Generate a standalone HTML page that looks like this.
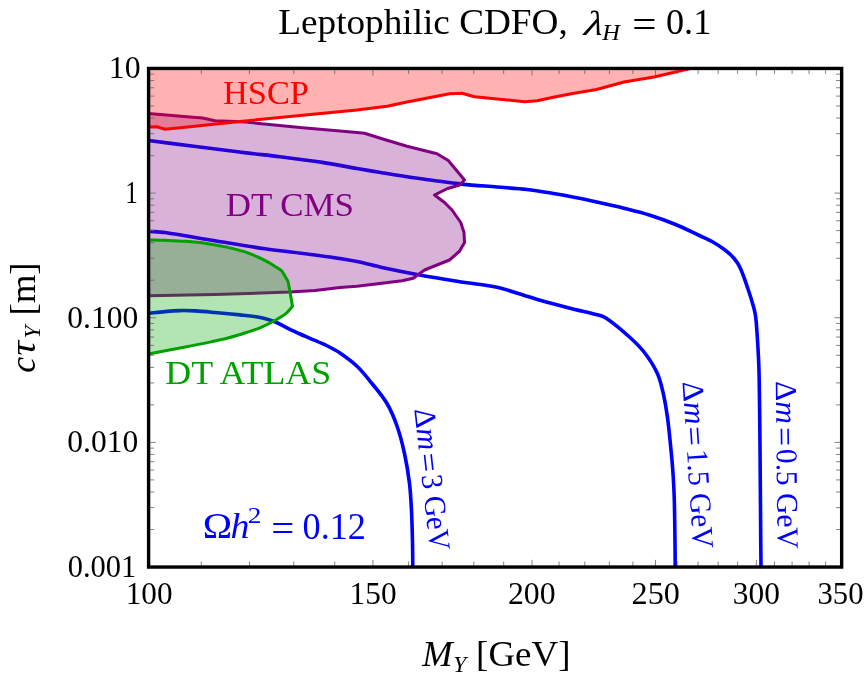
<!DOCTYPE html>
<html><head><meta charset="utf-8"><title>Leptophilic CDFO</title>
<style>html,body{margin:0;padding:0;background:#fff;}svg{display:block;}text{font-family:"Liberation Serif",serif;}</style></head><body>
<svg width="868" height="685" viewBox="0 0 868 685" style="will-change:transform">
<rect width="868" height="685" fill="#fff"/>
<defs><clipPath id="cp"><rect x="148.60" y="68.45" width="693.05" height="498.60"/></clipPath></defs>
<g clip-path="url(#cp)" stroke-linejoin="round" stroke-linecap="butt" fill="none">
<path d="M148.50,140.50 C164.23,142.50 179.97,144.51 195.70,146.50 C212.60,148.64 229.49,150.85 246.40,152.90 C257.59,154.25 268.82,155.30 280.00,156.70 C294.15,158.47 308.30,160.24 322.40,162.40 C333.98,164.17 345.46,166.51 357.00,168.50 C365.33,169.94 373.66,171.33 382.00,172.70 C390.33,174.07 398.65,175.45 407.00,176.70 C415.32,177.95 423.66,179.08 432.00,180.20 C441.99,181.54 451.97,183.05 462.00,184.10 C473.64,185.32 485.33,186.03 497.00,187.00 C507.00,187.83 517.03,188.37 527.00,189.50 C535.37,190.45 543.69,191.88 552.00,193.25 C559.35,194.46 566.69,195.81 574.00,197.25 C582.35,198.89 590.68,200.67 599.00,202.50 C607.35,204.34 615.70,206.18 624.00,208.25 C632.71,210.43 641.44,212.56 650.00,215.25 C658.45,217.90 666.81,220.89 675.00,224.25 C683.49,227.73 691.69,231.87 700.00,235.75 C704.19,237.70 708.48,239.46 712.50,241.75 C716.84,244.22 721.03,246.97 725.00,250.00 C728.14,252.40 731.18,255.00 733.75,258.00 C736.22,260.88 738.40,264.06 740.00,267.50 C743.01,273.95 745.19,280.77 747.50,287.50 C749.77,294.11 751.90,300.77 753.75,307.50 C754.65,310.78 755.36,314.12 755.75,317.50 C756.61,324.97 757.04,332.49 757.50,340.00 C758.13,350.33 758.76,360.66 759.00,371.00 C759.59,396.00 759.74,421.00 760.00,446.00 C760.33,478.00 760.48,510.00 760.75,542.00 C760.82,550.25 760.92,558.50 761.00,566.75" stroke="#0000ff" stroke-width="3.6"/>
<path d="M148.50,231.25 C154.00,231.67 159.54,231.72 165.00,232.50 C181.72,234.89 198.33,238.04 215.00,240.75 C231.66,243.46 248.29,246.37 265.00,248.75 C281.63,251.12 298.36,252.69 315.00,255.00 C329.03,256.94 343.07,258.90 357.00,261.50 C365.42,263.07 373.62,265.69 382.00,267.50 C393.63,270.02 405.30,272.35 417.00,274.50 C430.30,276.94 443.64,279.15 457.00,281.25 C466.98,282.82 477.03,283.89 487.00,285.50 C492.03,286.31 497.09,287.14 502.00,288.50 C513.94,291.81 525.59,296.08 537.50,299.50 C549.93,303.08 562.47,306.29 575.00,309.50 C581.64,311.20 588.40,312.40 595.00,314.25 C598.83,315.32 602.93,316.05 606.25,318.25 C614.74,323.89 622.44,330.67 630.00,337.50 C635.38,342.36 640.62,347.47 645.00,353.25 C649.84,359.63 654.21,366.46 657.50,373.75 C660.39,380.16 661.83,387.15 663.40,394.00 C665.17,401.75 666.44,409.62 667.50,417.50 C669.00,428.63 669.99,439.82 671.10,451.00 C671.79,457.99 672.43,464.99 672.90,472.00 C673.48,480.66 673.99,489.33 674.25,498.00 C674.69,512.66 674.80,527.33 675.00,542.00 C675.11,550.27 675.13,558.53 675.20,566.80" stroke="#0000ff" stroke-width="3.6"/>
<path d="M148.50,313.40 C154.00,312.80 159.49,312.09 165.00,311.60 C169.99,311.16 174.99,310.72 180.00,310.60 C185.00,310.48 190.01,310.63 195.00,310.90 C201.68,311.26 208.34,311.91 215.00,312.50 C223.34,313.24 231.67,314.02 240.00,314.90 C245.88,315.52 251.77,316.04 257.60,317.00 C261.45,317.64 265.24,318.65 269.00,319.70 C271.21,320.32 273.40,321.06 275.50,322.00 C279.42,323.76 283.14,325.91 287.00,327.80 C291.31,329.91 295.63,332.01 300.00,334.00 C303.30,335.51 306.67,336.85 310.00,338.30 C315.84,340.85 321.78,343.20 327.50,346.00 C331.79,348.10 336.06,350.30 340.00,353.00 C345.92,357.07 351.80,361.29 357.00,366.25 C362.52,371.51 367.22,377.57 372.00,383.50 C377.23,389.99 382.77,396.32 387.00,403.50 C391.16,410.57 394.29,418.25 397.00,426.00 C400.14,434.97 402.48,444.22 404.50,453.50 C406.65,463.41 408.27,473.44 409.50,483.50 C410.61,492.62 411.03,501.82 411.50,511.00 C412.03,521.33 412.26,531.66 412.50,542.00 C412.69,550.33 412.70,558.67 412.80,567.00" stroke="#0000ff" stroke-width="3.6"/>
<path d="M148.50,113.60 L190.00,117.00 L202.50,118.00 L215.00,120.75 L242.50,121.75 L300.00,127.50 L357.00,132.50 L364.50,133.25 L382.00,138.75 L407.00,146.25 L437.00,153.75 L448.25,160.50 L464.50,180.00 L459.50,185.00 L447.00,188.75 L434.50,195.00 L444.50,202.50 L452.00,210.00 L460.75,222.50 L464.00,232.50 L464.50,242.50 L459.50,251.25 L449.50,260.00 L424.50,270.00 L413.25,278.25 L402.00,280.75 L382.00,283.25 L357.00,286.25 L340.00,287.50 L315.00,290.50 L290.00,292.00 L215.00,294.50 L148.50,295.75Z" fill="#800080" fill-opacity="0.3" stroke="none"/>
<path d="M148.50,113.60 L190.00,117.00 L202.50,118.00 L215.00,120.75 L242.50,121.75 L300.00,127.50 L357.00,132.50 L364.50,133.25 L382.00,138.75 L407.00,146.25 L437.00,153.75 L448.25,160.50 L464.50,180.00 L459.50,185.00 L447.00,188.75 L434.50,195.00 L444.50,202.50 L452.00,210.00 L460.75,222.50 L464.00,232.50 L464.50,242.50 L459.50,251.25 L449.50,260.00 L424.50,270.00 L413.25,278.25 L402.00,280.75 L382.00,283.25 L357.00,286.25 L340.00,287.50 L315.00,290.50 L290.00,292.00 L215.00,294.50 L148.50,295.75" stroke="#800080" stroke-width="3.0"/>
<path d="M148.60,68.45 L692.00,68.45 L692.00,68.00 L676.50,71.75 L654.00,77.00 L624.00,82.00 L596.50,89.50 L574.00,93.25 L554.50,97.00 L537.00,100.75 L524.50,101.75 L502.00,99.50 L474.50,96.75 L462.00,93.25 L449.50,93.75 L407.00,102.00 L387.00,106.25 L357.00,110.00 L300.00,115.50 L242.50,121.25 L190.00,126.80 L165.00,129.25 L157.00,126.80 L148.50,127.00Z" fill="#ff0000" fill-opacity="0.3" stroke="none"/>
<path d="M148.50,127.00 L157.00,126.80 L165.00,129.25 L190.00,126.80 L242.50,121.25 L300.00,115.50 L357.00,110.00 L387.00,106.25 L407.00,102.00 L449.50,93.75 L462.00,93.25 L474.50,96.75 L502.00,99.50 L524.50,101.75 L537.00,100.75 L554.50,97.00 L574.00,93.25 L596.50,89.50 L624.00,82.00 L654.00,77.00 L676.50,71.75 L692.00,68.00" stroke="#ff0000" stroke-width="3.0"/>
<path d="M148.50,239.90 C154.13,240.03 159.77,240.09 165.40,240.30 C172.24,240.56 179.08,240.78 185.90,241.30 C192.72,241.82 199.53,242.44 206.30,243.40 C213.14,244.37 219.96,245.58 226.70,247.10 C233.60,248.65 240.54,250.21 247.20,252.60 C254.22,255.12 261.01,258.31 267.60,261.80 C272.61,264.46 277.13,267.93 281.90,271.00 L288.00,281.20 L290.10,292.40 L292.50,306.30 C290.20,308.87 288.32,311.58 285.80,313.60 C282.44,316.29 278.66,318.42 274.90,320.50 C270.02,323.19 265.04,325.75 259.90,327.90 C255.22,329.86 250.33,331.26 245.50,332.80 C239.96,334.56 234.42,336.32 228.80,337.80 C223.25,339.26 217.61,340.40 212.00,341.60 C205.01,343.10 198.01,344.51 191.00,345.90 C183.34,347.41 175.67,348.84 168.00,350.30 C161.50,351.54 155.00,352.77 148.50,354.00Z" fill="#00aa00" fill-opacity="0.3" stroke="none"/>
<path d="M148.50,239.90 C154.13,240.03 159.77,240.09 165.40,240.30 C172.24,240.56 179.08,240.78 185.90,241.30 C192.72,241.82 199.53,242.44 206.30,243.40 C213.14,244.37 219.96,245.58 226.70,247.10 C233.60,248.65 240.54,250.21 247.20,252.60 C254.22,255.12 261.01,258.31 267.60,261.80 C272.61,264.46 277.13,267.93 281.90,271.00 L288.00,281.20 L290.10,292.40 L292.50,306.30 C290.20,308.87 288.32,311.58 285.80,313.60 C282.44,316.29 278.66,318.42 274.90,320.50 C270.02,323.19 265.04,325.75 259.90,327.90 C255.22,329.86 250.33,331.26 245.50,332.80 C239.96,334.56 234.42,336.32 228.80,337.80 C223.25,339.26 217.61,340.40 212.00,341.60 C205.01,343.10 198.01,344.51 191.00,345.90 C183.34,347.41 175.67,348.84 168.00,350.30 C161.50,351.54 155.00,352.77 148.50,354.00" stroke="#00a000" stroke-width="3.0"/>
</g>
<path d="M148.60,567.05V559.85M148.60,68.45V75.65M201.33,567.05V561.45M201.33,68.45V74.05M249.46,567.05V561.45M249.46,68.45V74.05M293.74,567.05V561.45M293.74,68.45V74.05M334.74,567.05V561.45M334.74,68.45V74.05M372.91,567.05V559.85M372.91,68.45V75.65M408.61,567.05V561.45M408.61,68.45V74.05M442.15,567.05V561.45M442.15,68.45V74.05M473.77,567.05V561.45M473.77,68.45V74.05M503.68,567.05V561.45M503.68,68.45V74.05M532.06,567.05V559.85M532.06,68.45V75.65M559.05,567.05V561.45M559.05,68.45V74.05M584.79,567.05V561.45M584.79,68.45V74.05M609.38,567.05V561.45M609.38,68.45V74.05M632.92,567.05V561.45M632.92,68.45V74.05M655.51,567.05V559.85M655.51,68.45V75.65M677.21,567.05V561.45M677.21,68.45V74.05M698.08,567.05V561.45M698.08,68.45V74.05M718.20,567.05V561.45M718.20,68.45V74.05M737.62,567.05V561.45M737.62,68.45V74.05M756.37,567.05V559.85M756.37,68.45V75.65M774.51,567.05V561.45M774.51,68.45V74.05M792.08,567.05V561.45M792.08,68.45V74.05M809.10,567.05V561.45M809.10,68.45V74.05M825.61,567.05V561.45M825.61,68.45V74.05M841.65,567.05V559.85M841.65,68.45V75.65M148.60,567.05H155.80M841.65,567.05H834.45M148.60,529.53H154.20M841.65,529.53H836.05M148.60,507.58H154.20M841.65,507.58H836.05M148.60,492.00H154.20M841.65,492.00H836.05M148.60,479.92H154.20M841.65,479.92H836.05M148.60,470.05H154.20M841.65,470.05H836.05M148.60,461.71H154.20M841.65,461.71H836.05M148.60,454.48H154.20M841.65,454.48H836.05M148.60,448.10H154.20M841.65,448.10H836.05M148.60,442.40H155.80M841.65,442.40H834.45M148.60,404.88H154.20M841.65,404.88H836.05M148.60,382.93H154.20M841.65,382.93H836.05M148.60,367.35H154.20M841.65,367.35H836.05M148.60,355.27H154.20M841.65,355.27H836.05M148.60,345.40H154.20M841.65,345.40H836.05M148.60,337.06H154.20M841.65,337.06H836.05M148.60,329.83H154.20M841.65,329.83H836.05M148.60,323.45H154.20M841.65,323.45H836.05M148.60,317.75H155.80M841.65,317.75H834.45M148.60,280.23H154.20M841.65,280.23H836.05M148.60,258.28H154.20M841.65,258.28H836.05M148.60,242.70H154.20M841.65,242.70H836.05M148.60,230.62H154.20M841.65,230.62H836.05M148.60,220.75H154.20M841.65,220.75H836.05M148.60,212.41H154.20M841.65,212.41H836.05M148.60,205.18H154.20M841.65,205.18H836.05M148.60,198.80H154.20M841.65,198.80H836.05M148.60,193.10H155.80M841.65,193.10H834.45M148.60,155.58H154.20M841.65,155.58H836.05M148.60,133.63H154.20M841.65,133.63H836.05M148.60,118.05H154.20M841.65,118.05H836.05M148.60,105.97H154.20M841.65,105.97H836.05M148.60,96.10H154.20M841.65,96.10H836.05M148.60,87.76H154.20M841.65,87.76H836.05M148.60,80.53H154.20M841.65,80.53H836.05M148.60,74.15H154.20M841.65,74.15H836.05M148.60,68.45H155.80M841.65,68.45H834.45" stroke="#666" stroke-width="0.8" fill="none"/>
<rect x="148.60" y="68.45" width="693.05" height="498.60" fill="none" stroke="#000" stroke-width="3.4"/>
<text transform="translate(125.73,604.00) scale(1.0071,1.0390)" font-size="31" fill="#000" xml:space="preserve">100</text>
<text transform="translate(349.62,604.00) scale(1.0094,1.0390)" font-size="31" fill="#000" xml:space="preserve">150</text>
<text transform="translate(507.92,604.00) scale(1.0250,1.0390)" font-size="31" fill="#000" xml:space="preserve">200</text>
<text transform="translate(631.60,604.00) scale(1.0386,1.0390)" font-size="31" fill="#000" xml:space="preserve">250</text>
<text transform="translate(732.78,604.00) scale(1.0126,1.0390)" font-size="31" fill="#000" xml:space="preserve">300</text>
<text transform="translate(817.52,604.00) scale(0.9897,1.0390)" font-size="31" fill="#000" xml:space="preserve">350</text>
<text transform="translate(108.78,78.45) scale(1.0259,1.0488)" font-size="31" fill="#000" xml:space="preserve">10</text>
<text transform="translate(125.18,203.10) scale(0.8091,1.0488)" font-size="31" fill="#000" xml:space="preserve">1</text>
<text transform="translate(67.33,327.75) scale(1.0171,1.0488)" font-size="31" fill="#000" xml:space="preserve">0.100</text>
<text transform="translate(67.33,452.40) scale(1.0171,1.0488)" font-size="31" fill="#000" xml:space="preserve">0.010</text>
<text transform="translate(67.67,577.05) scale(0.9843,1.0488)" font-size="31" fill="#000" xml:space="preserve">0.001</text>
<text transform="translate(278.27,34.40) scale(1.0341,1.0000)" font-size="36" fill="#000" xml:space="preserve">Leptophilic CDFO,</text>
<text transform="translate(583.60,34.70) scale(1.2000,0.9703) skewX(-7)" font-size="36" fill="#000" font-style="italic" xml:space="preserve">λ</text>
<text transform="translate(602.36,39.80) scale(1.0216,1.0000)" font-size="24" fill="#000" font-style="italic" xml:space="preserve">H</text>
<text transform="translate(632.31,38.40) scale(1.1940,1.1333)" font-size="36" fill="#000" xml:space="preserve">=</text>
<text transform="translate(665.99,34.40) scale(1.0061,1.0000)" font-size="36" fill="#000" xml:space="preserve">0.1</text>
<text transform="translate(422.26,666.20) scale(1.0109,1.0000)" font-size="36" fill="#000" font-style="italic" xml:space="preserve">M</text>
<text transform="translate(453.23,671.70) scale(0.9786,1.0000)" font-size="24" fill="#000" font-style="italic" xml:space="preserve">Y</text>
<text transform="translate(476.08,666.20) scale(1.0266,1.0000)" font-size="36" fill="#000" xml:space="preserve">[GeV]</text>
<text transform="translate(34.80,371.70) rotate(-90.00) translate(-1.00,0.00) scale(1.0000,1.0000)" font-size="36" fill="#000" font-style="italic" xml:space="preserve">c</text>
<text transform="translate(34.80,371.70) rotate(-90.00) translate(15.83,0.00) scale(1.1547,1.0000)" font-size="36" fill="#000" font-style="italic" xml:space="preserve">τ</text>
<text transform="translate(34.80,371.70) rotate(-90.00) translate(33.14,5.20) scale(0.9714,1.0000)" font-size="24" fill="#000" font-style="italic" xml:space="preserve">Y</text>
<text transform="translate(34.80,371.70) rotate(-90.00) translate(56.08,0.00) scale(1.0237,1.0000)" font-size="36" fill="#000" xml:space="preserve">[m]</text>
<text transform="translate(222.99,103.80) scale(1.0103,1.0111)" font-size="34" fill="#ff0000" xml:space="preserve">HSCP</text>
<text transform="translate(225.77,215.60) scale(1.0262,1.0089)" font-size="34" fill="#800080" xml:space="preserve">DT CMS</text>
<text transform="translate(165.34,383.90) scale(1.0558,1.0133)" font-size="34" fill="#00a000" xml:space="preserve">DT ATLAS</text>
<text transform="translate(202.63,537.90) scale(1.0839,1.0000)" font-size="36.5" fill="#0000ff" xml:space="preserve">Ω</text>
<text transform="translate(230.40,537.90) scale(1.0387,1.0000)" font-size="36.5" fill="#0000ff" font-style="italic" xml:space="preserve">h</text>
<text transform="translate(247.79,523.00) scale(1.2111,1.0000)" font-size="22.5" fill="#0000ff" xml:space="preserve">2</text>
<text transform="translate(271.21,541.05) scale(1.1343,1.0333)" font-size="36" fill="#0000ff" xml:space="preserve">=</text>
<text transform="translate(302.51,538.60) scale(0.9942,1.0227)" font-size="36.5" fill="#0000ff" xml:space="preserve">0.12</text>
<text transform="translate(414.40,410.40) rotate(83.70) translate(-1.27,0.00) scale(1.0128,1.0000)" font-size="30.5" fill="#0000ff" xml:space="preserve">Δ<tspan font-style="italic">m</tspan></text>
<text transform="translate(414.40,410.40) rotate(83.70) translate(43.53,2.47) scale(1.1158,1.0839)" font-size="30.5" fill="#0000ff" xml:space="preserve">=</text>
<text transform="translate(414.40,410.40) rotate(83.70) translate(65.38,0.00) scale(0.9490,1.0000)" font-size="30.5" fill="#0000ff" xml:space="preserve">3 GeV</text>
<text transform="translate(682.70,383.10) rotate(86.40) translate(-1.30,0.00) scale(1.0436,1.0000)" font-size="30.5" fill="#0000ff" xml:space="preserve">Δ<tspan font-style="italic">m</tspan></text>
<text transform="translate(682.70,383.10) rotate(86.40) translate(43.79,2.47) scale(1.1368,1.0839)" font-size="30.5" fill="#0000ff" xml:space="preserve">=</text>
<text transform="translate(682.70,383.10) rotate(86.40) translate(66.96,0.00) scale(0.9586,1.0000)" font-size="30.5" fill="#0000ff" xml:space="preserve">1.5 GeV</text>
<text transform="translate(775.70,382.20) rotate(89.30) translate(-1.29,0.00) scale(1.0333,1.0000)" font-size="30.5" fill="#0000ff" xml:space="preserve">Δ<tspan font-style="italic">m</tspan></text>
<text transform="translate(775.70,382.20) rotate(89.30) translate(44.95,2.47) scale(1.1018,1.0839)" font-size="30.5" fill="#0000ff" xml:space="preserve">=</text>
<text transform="translate(775.70,382.20) rotate(89.30) translate(66.89,0.00) scale(0.9641,1.0000)" font-size="30.5" fill="#0000ff" xml:space="preserve">0.5 GeV</text>
</svg></body></html>
